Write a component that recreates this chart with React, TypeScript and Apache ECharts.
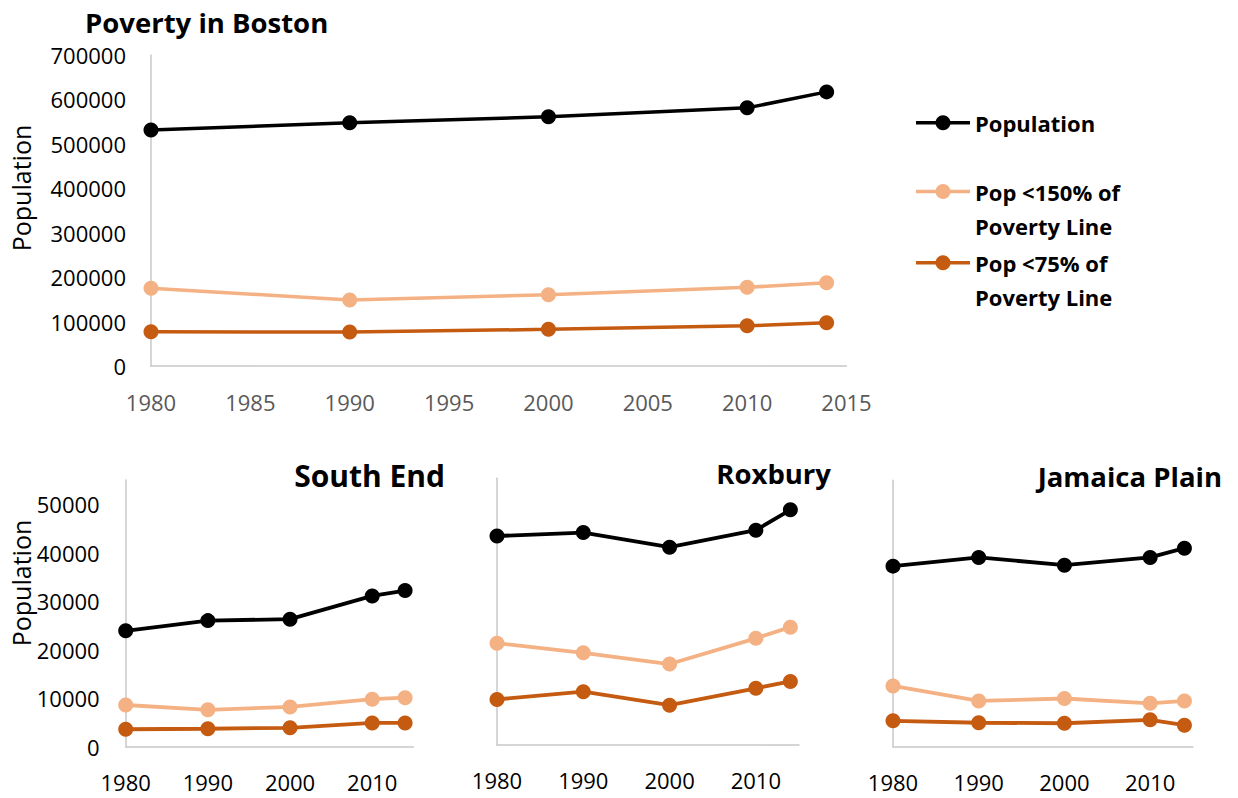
import React, { useEffect, useRef } from "react";
import * as echarts from "echarts";

// Census years shared by every panel
const years = [1980, 1990, 2000, 2010, 2014];

const seriesNames = ["Population", "Pop <150% of Poverty Line", "Pop <75% of Poverty Line"];
const legendLabels = ["Population", "Pop <150% of\nPoverty Line", "Pop <75% of\nPoverty Line"];
const lineColors = ["#000000", "#F4B183", "#C55A11"];

// Boston (city-wide)
const bostonPop = [531000, 547500, 561000, 581000, 617000];
const bostonPov150 = [175000, 148500, 160500, 177000, 187500];
const bostonPov75 = [77000, 76500, 82500, 90500, 97500];

// South End
const southEndPop = [23900, 26000, 26300, 31100, 32200];
const southEndPov150 = [8600, 7600, 8200, 9800, 10100];
const southEndPov75 = [3600, 3700, 3900, 4900, 4900];

// Roxbury
const roxburyPop = [43100, 43800, 40800, 44300, 48500];
const roxburyPov150 = [21000, 19000, 16700, 22000, 24300];
const roxburyPov75 = [9400, 11000, 8200, 11700, 13100];

// Jamaica Plain
const jamaicaPop = [37300, 39100, 37500, 39100, 41000];
const jamaicaPov150 = [12600, 9500, 10000, 9000, 9500];
const jamaicaPov75 = [5400, 5000, 4900, 5600, 4500];

const FONT = "'Open Sans', 'Noto Sans', sans-serif";
const AXIS_GRAY = "#c8c8c8";

const pairs = (vals: number[]) => years.map((y, i) => [y, vals[i]]);

export default function App() {
  const ref = useRef<HTMLDivElement>(null);

  useEffect(() => {
    if (!ref.current) return;
    const chart = echarts.init(ref.current, null, { renderer: "svg" });

    const panels = [
      { grid: { left: 151, top: 55, width: 695.5, height: 311 }, vals: [bostonPop, bostonPov150, bostonPov75], main: true, showY: true },
      { grid: { left: 125.7, top: 480, width: 287.6, height: 266.7 }, vals: [southEndPop, southEndPov150, southEndPov75], main: false, showY: true },
      { grid: { left: 497, top: 478.3, width: 302, height: 266.7 }, vals: [roxburyPop, roxburyPov150, roxburyPov75], main: false, showY: false },
      { grid: { left: 893, top: 480.3, width: 300, height: 266.7 }, vals: [jamaicaPop, jamaicaPov150, jamaicaPov75], main: false, showY: false },
    ];

    const grid: any[] = [];
    const xAxis: any[] = [];
    const yAxis: any[] = [];
    const series: any[] = [];

    panels.forEach((p, gi) => {
      grid.push({ ...p.grid, containLabel: false });
      xAxis.push({
        type: "value",
        gridIndex: gi,
        min: 1980,
        max: 2015,
        interval: p.main ? 5 : 10,
        axisLine: { show: true, lineStyle: { color: AXIS_GRAY, width: 1.5 } },
        axisTick: { show: false },
        splitLine: { show: false },
        axisLabel: {
          margin: p.main ? 25 : 24,
          color: p.main ? "#595959" : "#000000",
          fontSize: 22,
          fontFamily: FONT,
          showMaxLabel: p.main,
          formatter: (v: number) => String(v),
        },
      });
      yAxis.push({
        type: "value",
        gridIndex: gi,
        min: 0,
        max: p.main ? 700000 : 55000,
        interval: p.main ? 100000 : 10000,
        axisLine: { show: true, lineStyle: { color: AXIS_GRAY, width: 1.5 } },
        axisTick: { show: false },
        splitLine: { show: false },
        axisLabel: {
          show: p.showY,
          margin: p.main ? 25 : 26,
          color: "#000000",
          fontSize: 22,
          fontFamily: FONT,
          showMaxLabel: p.main,
          formatter: (v: number) => String(v),
        },
      });
      p.vals.forEach((vals, si) => {
        series.push({
          type: "line",
          name: seriesNames[si],
          xAxisIndex: gi,
          yAxisIndex: gi,
          data: pairs(vals),
          symbol: "circle",
          symbolSize: 15,
          showSymbol: true,
          lineStyle: { color: lineColors[si], width: p.main ? 3.5 : 3.8 },
          itemStyle: { color: lineColors[si] },
          z: 3 - si,
        });
      });
    });

    const legendY = [122.7, 191.5, 262.7];
    const legendGraphics: any[] = [];
    legendLabels.forEach((label, i) => {
      legendGraphics.push(
        { type: "line", shape: { x1: 916, y1: legendY[i], x2: 970, y2: legendY[i] }, style: { stroke: lineColors[i], lineWidth: 3.5 } },
        { type: "circle", shape: { cx: 943, cy: legendY[i], r: 7.5 }, style: { fill: lineColors[i] } },
        {
          type: "text",
          x: 975,
          y: legendY[i] - 17,
          style: { text: label, font: `bold 22px ${FONT}`, fill: "#000000", align: "left", verticalAlign: "top", lineHeight: 34 },
        }
      );
    });

    const titleText = (text: string, x: number, y: number, size: number, align: string) => ({
      type: "text",
      x,
      y,
      style: { text, font: `bold ${size}px ${FONT}`, fill: "#000000", align, verticalAlign: "middle" },
    });

    const axisName = (y: number) => ({
      type: "text",
      x: 21,
      y,
      rotation: Math.PI / 2,
      style: { text: "Population", font: `25px ${FONT}`, fill: "#000000", align: "center", verticalAlign: "middle" },
    });

    chart.setOption({
      animation: false,
      backgroundColor: "#ffffff",
      grid,
      xAxis,
      yAxis,
      series,
      graphic: [
        titleText("Poverty in Boston", 85, 22, 27.5, "left"),
        titleText("South End", 445, 475, 30, "right"),
        titleText("Roxbury", 831, 473, 27.5, "right"),
        titleText("Jamaica Plain", 1222, 476, 27.5, "right"),
        axisName(188),
        axisName(583),
        ...legendGraphics,
      ],
    });

    return () => chart.dispose();
  }, []);

  return (
    <div
      ref={ref}
      style={{ position: "fixed", left: 0, top: 0, width: 1238, height: 798, background: "#ffffff" }}
    />
  );
}
